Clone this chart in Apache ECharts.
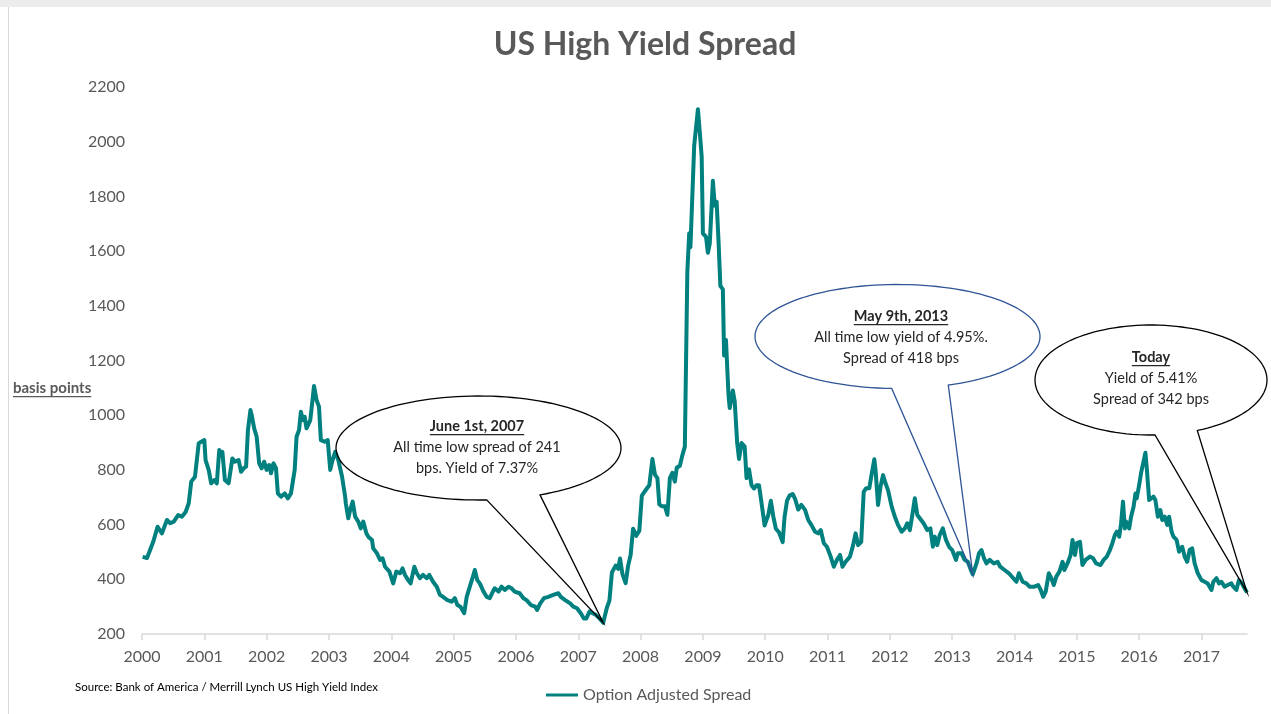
<!DOCTYPE html>
<html><head><meta charset="utf-8">
<script src="https://cdn.jsdelivr.net/npm/echarts@6/dist/echarts.min.js"></script>
<style>html,body{margin:0;padding:0;background:#fff}#c{width:1271px;height:714px}</style>
</head><body><div id="c"></div>
<script>
// ---- data (decimal year, basis points) ----
const years = [
2000.01,2000.08,2000.13,2000.18,2000.25,2000.32,2000.40,2000.45,2000.51,2000.58,2000.64,2000.70,2000.75,2000.79,2000.85,2000.91,2000.95,
2001.00,2001.02,2001.07,2001.11,2001.16,2001.20,2001.24,2001.27,2001.29,2001.33,2001.39,2001.45,2001.49,2001.55,2001.59,2001.63,2001.67,2001.70,2001.74,2001.76,2001.80,2001.84,2001.88,2001.92,2001.96,
2002.00,2002.04,2002.07,2002.11,2002.15,2002.18,2002.23,2002.29,2002.34,2002.39,2002.45,2002.48,2002.52,2002.55,2002.58,2002.61,2002.64,2002.70,2002.73,2002.76,2002.80,2002.84,2002.87,2002.93,2002.98,
2003.02,2003.05,2003.10,2003.15,2003.21,2003.26,2003.27,2003.31,2003.34,2003.38,2003.42,2003.47,2003.51,2003.55,2003.60,2003.63,2003.69,2003.71,2003.77,2003.82,2003.86,2003.90,2003.97,
2004.03,2004.08,2004.14,2004.18,2004.22,2004.27,2004.31,2004.37,2004.41,2004.46,2004.51,2004.57,2004.61,2004.67,2004.73,2004.78,2004.83,2004.90,2004.97,
2005.02,2005.06,2005.11,2005.17,2005.21,2005.26,2005.31,2005.34,2005.38,2005.42,2005.48,2005.53,2005.58,2005.63,2005.66,2005.72,2005.77,2005.82,2005.88,2005.93,2005.98,
2006.06,2006.12,2006.17,2006.24,2006.31,2006.34,2006.39,2006.45,2006.52,2006.60,2006.68,2006.72,2006.79,2006.87,2006.92,2006.98,
2007.04,2007.09,2007.13,2007.18,2007.23,2007.28,2007.34,2007.40,2007.46,2007.50,2007.54,2007.57,2007.60,2007.64,2007.67,2007.71,2007.76,2007.80,2007.84,2007.88,2007.93,2007.98,
2008.02,2008.05,2008.10,2008.14,2008.19,2008.23,2008.27,2008.30,2008.34,2008.39,2008.43,2008.47,2008.51,2008.55,2008.58,2008.63,2008.67,2008.71,2008.75,2008.78,2008.80,2008.83,2008.86,2008.89,2008.92,2008.95,2008.98,
2009.00,2009.05,2009.08,2009.11,2009.16,2009.19,2009.22,2009.25,2009.28,2009.32,2009.34,2009.37,2009.41,2009.43,2009.48,2009.51,2009.55,2009.58,2009.62,2009.67,2009.70,2009.74,2009.78,2009.82,2009.86,2009.90,2009.94,2009.99,
2010.05,2010.09,2010.13,2010.17,2010.22,2010.28,2010.31,2010.35,2010.39,2010.44,2010.48,2010.53,2010.58,2010.64,2010.69,2010.74,2010.80,2010.85,2010.89,2010.94,2010.99,
2011.05,2011.10,2011.15,2011.20,2011.24,2011.29,2011.36,2011.41,2011.45,2011.49,2011.54,2011.58,2011.62,2011.67,2011.70,2011.75,2011.77,2011.81,2011.85,2011.89,2011.93,2011.97,
2012.03,2012.08,2012.13,2012.19,2012.24,2012.28,2012.32,2012.36,2012.40,2012.44,2012.48,2012.54,2012.60,2012.65,2012.69,2012.72,2012.76,2012.80,2012.85,2012.90,2012.95,
2013.00,2013.06,2013.09,2013.15,2013.20,2013.25,2013.29,2013.33,2013.39,2013.43,2013.47,2013.51,2013.55,2013.60,2013.67,2013.73,2013.77,2013.84,2013.91,2013.98,
2014.03,2014.07,2014.13,2014.19,2014.24,2014.32,2014.38,2014.42,2014.46,2014.50,2014.55,2014.59,2014.63,2014.67,2014.72,2014.77,2014.80,2014.86,2014.90,2014.93,2014.97,
2015.00,2015.05,2015.09,2015.14,2015.21,2015.26,2015.31,2015.38,2015.43,2015.48,2015.53,2015.57,2015.61,2015.64,2015.68,2015.71,2015.74,2015.77,2015.79,2015.84,2015.87,2015.91,2015.94,2015.96,
2016.00,2016.03,2016.06,2016.10,2016.12,2016.16,2016.19,2016.23,2016.26,2016.30,2016.34,2016.37,2016.41,2016.45,2016.48,2016.52,2016.55,2016.60,2016.64,2016.69,2016.73,2016.77,2016.81,2016.85,2016.89,2016.94,
2017.00,2017.05,2017.10,2017.16,2017.19,2017.24,2017.28,2017.32,2017.37,2017.42,2017.48,2017.51,2017.56,2017.60,2017.65,2017.69,2017.73
];
const spread = [
482,478,507,537,592,568,617,605,611,635,629,646,678,757,775,897,903,
909,836,800,751,763,751,873,854,866,763,751,842,830,836,793,806,812,946,1019,1001,952,921,824,806,830,
800,818,788,824,806,714,702,714,696,714,800,921,946,1013,982,994,952,982,1043,1107,1056,1031,909,903,909,
800,830,866,836,775,702,678,623,653,684,629,611,586,611,568,556,544,513,495,471,477,446,428,
385,428,422,440,416,397,385,446,422,404,416,404,416,391,373,343,336,324,318,
331,306,300,276,336,373,410,434,397,385,355,336,331,355,367,355,373,361,373,367,355,
349,331,324,306,300,288,312,331,336,343,349,336,324,312,300,294,
276,257,257,282,276,270,257,241,297,322,425,431,450,438,476,418,386,450,489,585,559,578,
706,700,732,744,840,783,770,674,667,667,636,770,789,757,808,815,853,885,1524,1665,1614,1620,1985,1985,2119,2035,1946,
1665,1652,1594,1627,1857,1767,1780,1639,1473,1460,1218,1275,1077,1026,1090,1051,898,840,898,885,770,802,744,732,744,744,680,597,
636,687,629,585,572,536,628,688,706,712,693,655,672,653,617,599,574,568,580,532,519,
483,446,471,489,446,464,483,525,568,525,537,720,733,733,775,839,800,672,739,781,751,726,
665,629,599,574,586,605,580,635,696,635,623,605,580,586,519,556,525,562,586,544,519,
507,471,495,495,471,464,440,418,458,495,507,477,458,471,458,464,446,434,422,404,
391,422,391,385,373,373,379,361,336,355,422,404,379,410,428,464,434,464,489,544,489,
532,537,452,471,483,477,458,452,471,483,507,532,562,574,556,605,684,586,611,586,629,665,714,696,
745,788,781,863,812,690,684,702,690,629,653,617,629,599,629,574,556,544,501,519,483,464,507,513,458,422,
397,391,385,361,391,404,385,391,373,379,385,373,361,397,385,367,352
];
const xTicks = [2000,2001,2002,2003,2004,2005,2006,2007,2008,2009,2010,2011,2012,2013,2014,2015,2016,2017];
const xMin = 2000, xMax = 2017.73;
const yMin = 200, yMax = 2200, yStep = 200;
const notes = [
  {date: 2007.40, value: 241, title: 'June 1st, 2007', lines: ['All time low spread of 241', 'bps. Yield of 7.37%']},
  {date: 2013.33, value: 418, title: 'May 9th, 2013', lines: ['All time low yield of 4.95%.', 'Spread of 418 bps']},
  {date: 2017.73, value: 352, title: 'Today', lines: ['Yield of 5.41%', 'Spread of 342 bps']}
];
const sourceText = 'Source: Bank of America / Merrill Lynch US High Yield Index';
const axisName = 'basis points';
const seriesName = 'Option Adjusted Spread';

// ---- chart ----
const FONT = 'Lato, "Open Sans", sans-serif';
const GREY = '#595959';
const TEAL = '#00807F';
const chart = echarts.init(document.getElementById('c'), null, {renderer: 'canvas'});
chart.setOption({
  animation: false,
  backgroundColor: '#ffffff',
  title: {text: 'US High Yield Spread', left: 640, top: 24, textAlign: 'center',
    textStyle: {fontFamily: FONT, fontSize: 32, fontWeight: 'bold', color: GREY}},
  grid: {left: 142, right: 24, top: 87, bottom: 80},
  xAxis: {type: 'value', min: xMin, max: xMax,
    axisLine: {lineStyle: {color: '#d9d9d9', width: 1.5}},
    axisTick: {customValues: xTicks, length: 6, lineStyle: {color: '#d9d9d9', width: 1.5}},
    axisLabel: {customValues: xTicks, color: GREY, fontSize: 16, fontFamily: FONT, margin: 15,
      formatter: v => String(Math.round(v))},
    splitLine: {show: false}},
  yAxis: {type: 'value', min: yMin, max: yMax, interval: yStep,
    axisLine: {show: false}, axisTick: {show: false}, splitLine: {show: false},
    axisLabel: {color: GREY, fontSize: 16, fontFamily: FONT, margin: 17,
      formatter: v => String(v)}},
  legend: {left: 541, top: 682, itemWidth: 32, itemHeight: 12, itemGap: 4,
    textStyle: {color: GREY, fontSize: 16, fontFamily: FONT},
    data: [{name: seriesName, icon: 'path://M0,5 L32,5 L32,8 L0,8 Z'}]},
  series: [{type: 'line', name: seriesName, symbol: 'none',
    data: years.map((y, i) => [y, spread[i]]),
    lineStyle: {color: TEAL, width: 4, join: 'round'}, itemStyle: {color: TEAL}, z: 3}]
});

// ---- annotations ----
const ctx = document.createElement('canvas').getContext('2d');
function textW(t, font) { ctx.font = font; return ctx.measureText(t).width; }

const callouts = [
  {cx: 478.5, cy: 448, rx: 142.5, ry: 52, bl: 486.7, br: 540, color: '#000000', tx: 477, ty: 426},
  {cx: 897.5, cy: 336.5, rx: 142.5, ry: 52, bl: 891.7, br: 948.3, color: '#2F5597', tx: 901, ty: 316},
  {cx: 1151, cy: 380, rx: 116, ry: 55, bl: 1155, br: 1197.3, color: '#000000', tx: 1151, ty: 357}
];
const graphics = [];
// frame
graphics.push({type: 'rect', shape: {x: 0, y: 0, width: 1271, height: 7}, style: {fill: '#ececec'}, silent: true});
graphics.push({type: 'line', shape: {x1: 8.5, y1: 7, x2: 8.5, y2: 714}, style: {stroke: '#d9d9d9', lineWidth: 1}, silent: true});

notes.forEach((n, k) => {
  const c = callouts[k];
  const tip = chart.convertToPixel({gridIndex: 0}, [n.date, n.value]);
  const tl = Math.acos((c.bl - c.cx) / c.rx);
  const tr = Math.acos((c.br - c.cx) / c.rx);
  const pts = [];
  const steps = 120;
  const end = tr + 2 * Math.PI;
  for (let i = 0; i <= steps; i++) {
    const t = tl + (end - tl) * i / steps;
    pts.push([c.cx + c.rx * Math.cos(t), c.cy + c.ry * Math.sin(t)]);
  }
  pts.push(tip);
  graphics.push({type: 'polygon', shape: {points: pts}, style: {fill: 'rgba(255,255,255,0)', stroke: c.color, lineWidth: 1.3}, z: 10, silent: true});
  const bFont = 'bold 14.5px Lato';
  graphics.push({type: 'text', x: c.tx, y: c.ty, style: {text: n.title, font: bFont, fill: '#262626', align: 'center', verticalAlign: 'middle'}, z: 11});
  const w = textW(n.title, bFont);
  graphics.push({type: 'rect', shape: {x: c.tx - w / 2, y: c.ty + 8, width: w, height: 1.2}, style: {fill: '#262626'}, z: 11});
  n.lines.forEach((ln, j) => {
    graphics.push({type: 'text', x: c.tx, y: c.ty + 21 * (j + 1), style: {text: ln, font: '14.5px Lato', fill: '#262626', align: 'center', verticalAlign: 'middle'}, z: 11});
  });
});
// axis name
const nFont = 'bold 15px Lato';
graphics.push({type: 'text', x: 13, y: 388, style: {text: axisName, font: nFont, fill: GREY, align: 'left', verticalAlign: 'middle'}});
graphics.push({type: 'rect', shape: {x: 13, y: 396, width: textW(axisName, nFont), height: 1.3}, style: {fill: GREY}});
// source
graphics.push({type: 'text', x: 75, y: 687, style: {text: sourceText, font: '11.5px Lato', fill: '#000000', align: 'left', verticalAlign: 'middle'}});
chart.setOption({graphic: graphics});
</script></body></html>
